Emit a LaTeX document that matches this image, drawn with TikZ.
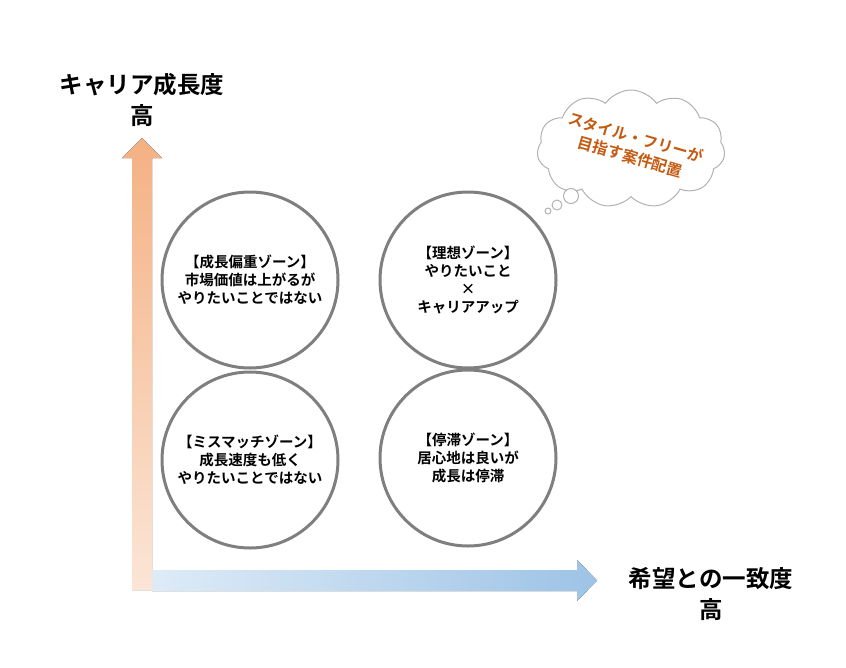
\documentclass[tikz,border=0pt]{standalone}
\usepackage{fontspec}
\setmainfont{Noto Sans CJK JP}[BoldFont={* Bold}]
\usetikzlibrary{shapes.symbols}
\definecolor{cgray}{HTML}{7F7F7F}
\definecolor{corange}{HTML}{C55A11}
\begin{document}
\begin{tikzpicture}[x=1pt,y=-1pt,
  zone/.style={circle,draw=cgray,line width=3pt,minimum size=176pt,inner sep=0pt,align=center,font=\bfseries\fontsize{14.5}{18}\selectfont},
  axl/.style={align=center,font=\bfseries\fontsize{23.5}{31}\selectfont},
  bub/.style={circle,draw=black!30,line width=1pt,fill=white,inner sep=0pt}]
\useasboundingbox (0,0) rectangle (846,667);
\fill[top color={rgb,255:red,244;green,177;blue,131},bottom color={rgb,255:red,251;green,229;blue,214}]
  (132,590)--(152,590)--(152,158)--(162,158)--(142,138)--(122,158)--(132,158)--cycle;
\fill[left color={rgb,255:red,222;green,235;blue,247},right color={rgb,255:red,157;green,195;blue,230}]
  (152,570)--(577,570)--(577,560)--(597,580.5)--(577,601)--(577,591)--(152,591)--cycle;
\node[axl] (ya) at (142,100) {キャリア成長度\\高};
\node[axl] (xa) at (711,594) {希望との一致度\\高};
\node[zone] (z1) at (250,280) {【成長偏重ゾーン】\\市場価値は上がるが\\やりたいことではない};
\node[zone] (z2) at (468,280) {【理想ゾーン】\\やりたいこと\\×\\キャリアアップ};
\node[zone] (z3) at (250,460) {【ミスマッチゾーン】\\成長速度も低く\\やりたいことではない};
\node[zone] (z4) at (468,458) {【停滞ゾーン】\\居心地は良いが\\成長は停滞};
\node[cloud,cloud puffs=11,cloud puff arc=110,aspect=1.6,draw=black!30,line width=1pt,fill=white,minimum width=188pt,minimum height=118pt] (cl) at (631,149) {};
\node[rotate=-16,align=center,text=corange,font=\bfseries\fontsize{15.5}{20}\selectfont] (ct) at (633,147) {スタイル・フリーが\\目指す案件配置};
\node[bub,minimum size=15pt] (b1) at (571,196) {};
\node[bub,minimum size=10pt] (b2) at (557,205) {};
\node[bub,minimum size=6pt] (b3) at (548,211) {};
\end{tikzpicture}
\end{document}
